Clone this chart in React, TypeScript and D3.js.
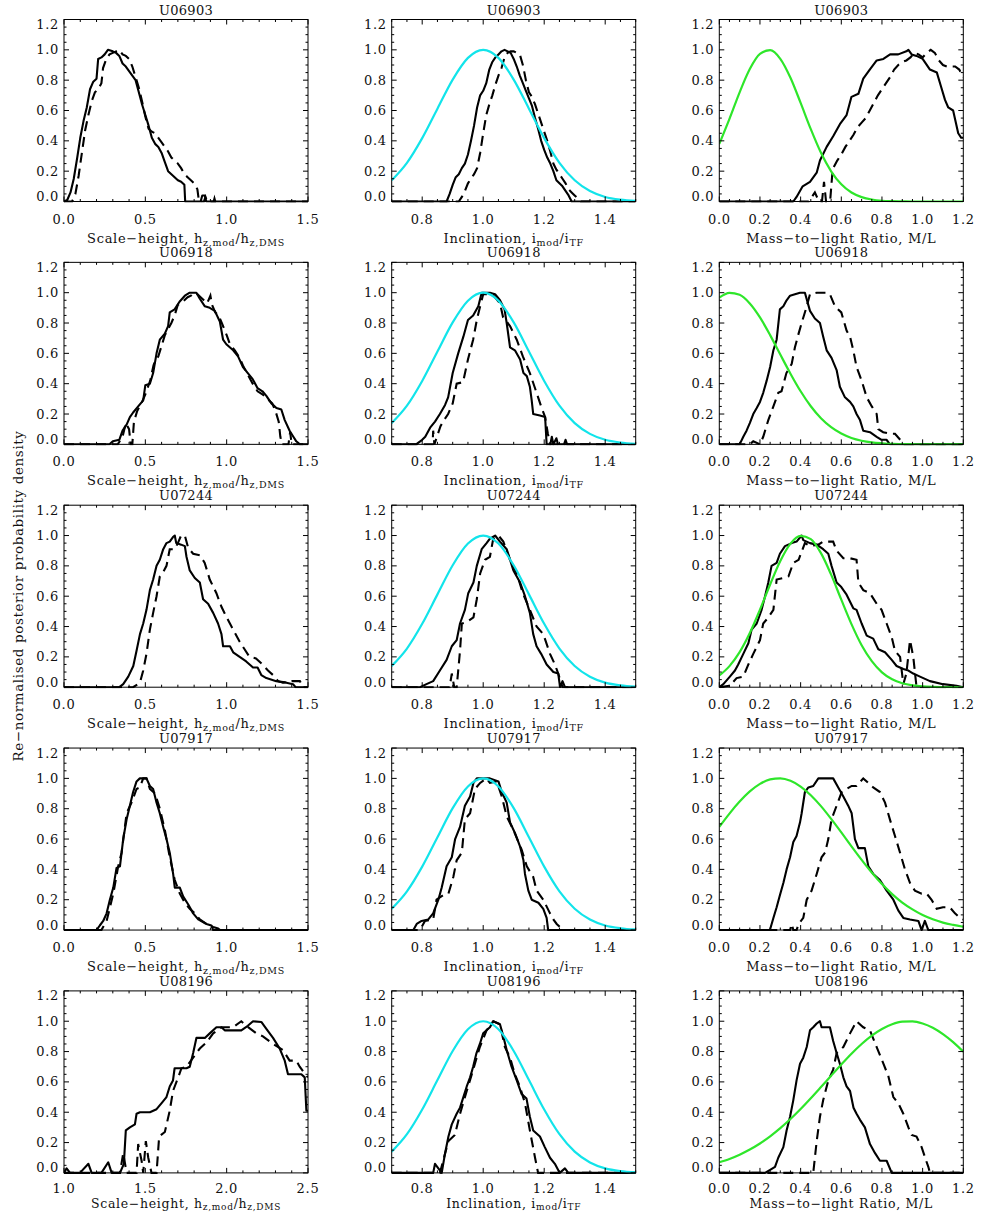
import React from 'react';
import * as d3 from 'd3';

type Pt = [number, number];

// ---------- Data ----------
const galaxies = ['U06903', 'U06918', 'U07244', 'U07917', 'U08196'];
const hzDomains: [number, number][] = [[0, 1.5], [0, 1.5], [0, 1.5], [0, 1.5], [1.0, 2.5]];
const hzTickLabels = [[0, 0.5, 1.0, 1.5], [0, 0.5, 1.0, 1.5], [0, 0.5, 1.0, 1.5], [0, 0.5, 1.0, 1.5], [1.0, 1.5, 2.0, 2.5]];
const inclDomain: [number, number] = [0.7, 1.5];
const inclTickLabels = [0.8, 1.0, 1.2, 1.4];
const mlDomain: [number, number] = [0, 1.2];
const mlTickLabels = [0, 0.2, 0.4, 0.6, 0.8, 1.0, 1.2];
const yTickLabels = [0, 0.2, 0.4, 0.6, 0.8, 1.0, 1.2];

// Inclination prior (cyan), same for every galaxy
const inclPriorX = [0.7, 0.75, 0.8, 0.85, 0.9, 0.95, 1.0, 1.05, 1.1, 1.15, 1.2, 1.25, 1.3, 1.35, 1.4, 1.45, 1.5];
const inclPriorY = [0.14, 0.255, 0.418, 0.612, 0.804, 0.947, 1.0, 0.947, 0.804, 0.612, 0.418, 0.255, 0.14, 0.069, 0.03, 0.012, 0.004];

// M/L prior grid (green)
const mlPriorX = [0, 0.05, 0.1, 0.15, 0.2, 0.25, 0.3, 0.35, 0.4, 0.45, 0.5, 0.55, 0.6, 0.65, 0.7, 0.75, 0.8, 0.85, 0.9, 0.95, 1.0, 1.05, 1.1, 1.15, 1.2];
const u06903MlPrior = [0.38, 0.545, 0.72, 0.873, 0.973, 0.998, 0.941, 0.816, 0.65, 0.477, 0.321, 0.199, 0.113, 0.059, 0.029, 0.013, 0.005, 0.002, 0.001, 0, 0, 0, 0, 0, 0];
const u06918MlPrior = [0.968, 0.999, 0.986, 0.929, 0.837, 0.72, 0.592, 0.466, 0.35, 0.251, 0.172, 0.113, 0.071, 0.042, 0.024, 0.013, 0.007, 0.003, 0.002, 0.001, 0, 0, 0, 0, 0];
const u07244MlPrior = [0.077, 0.139, 0.231, 0.357, 0.511, 0.677, 0.832, 0.947, 0.998, 0.976, 0.884, 0.742, 0.577, 0.416, 0.277, 0.172, 0.098, 0.052, 0.026, 0.012, 0.005, 0.002, 0.001, 0, 0];
const u07917MlPrior = [0.68, 0.768, 0.847, 0.914, 0.964, 0.993, 1.0, 0.984, 0.946, 0.889, 0.817, 0.733, 0.644, 0.552, 0.463, 0.379, 0.303, 0.237, 0.181, 0.136, 0.099, 0.071, 0.049, 0.034, 0.022];
const u08196MlPrior = [0.07, 0.092, 0.12, 0.154, 0.194, 0.241, 0.295, 0.355, 0.421, 0.492, 0.566, 0.641, 0.715, 0.786, 0.85, 0.905, 0.949, 0.98, 0.997, 0.999, 0.985, 0.957, 0.915, 0.862, 0.799];

// U06903
const u06903HzSolid: Pt[] = [[0,0],[0.02,0.01],[0.04,0.06],[0.06,0.15],[0.08,0.28],[0.10,0.42],[0.12,0.53],[0.14,0.62],[0.16,0.74],[0.18,0.79],[0.20,0.81],[0.21,0.94],[0.23,0.95],[0.25,0.97],[0.27,1.0],[0.30,0.99],[0.32,0.98],[0.34,0.96],[0.36,0.91],[0.38,0.89],[0.40,0.86],[0.42,0.83],[0.44,0.80],[0.46,0.72],[0.48,0.64],[0.50,0.57],[0.52,0.50],[0.54,0.42],[0.56,0.38],[0.58,0.36],[0.60,0.32],[0.62,0.26],[0.64,0.20],[0.66,0.18],[0.68,0.16],[0.70,0.14],[0.72,0.13],[0.74,0.11],[0.745,0],[0.84,0],[0.85,0.04],[0.865,0.04],[0.875,0],[1.5,0]];
const u06903HzDashed: Pt[] = [[0,0],[0.05,0],[0.07,0.05],[0.09,0.17],[0.11,0.32],[0.13,0.47],[0.15,0.57],[0.17,0.66],[0.19,0.72],[0.21,0.74],[0.23,0.78],[0.24,0.88],[0.26,0.94],[0.28,0.97],[0.30,0.98],[0.32,0.99],[0.34,1.0],[0.36,0.97],[0.38,0.96],[0.40,0.94],[0.42,0.89],[0.44,0.82],[0.46,0.75],[0.48,0.66],[0.50,0.56],[0.52,0.48],[0.54,0.46],[0.56,0.45],[0.58,0.42],[0.60,0.39],[0.62,0.36],[0.64,0.33],[0.66,0.29],[0.68,0.27],[0.70,0.25],[0.72,0.22],[0.74,0.18],[0.76,0.16],[0.78,0.14],[0.80,0.12],[0.82,0.08],[0.83,0],[0.86,0],[0.87,0.03],[0.88,0],[0.92,0],[0.925,0.02],[0.93,0],[1.5,0]];
const u06903InclSolid: Pt[] = [[0.7,0],[0.88,0],[0.89,0.05],[0.90,0.11],[0.91,0.16],[0.92,0.18],[0.93,0.22],[0.94,0.25],[0.95,0.31],[0.96,0.40],[0.97,0.50],[0.98,0.62],[0.99,0.70],[1.00,0.73],[1.01,0.78],[1.02,0.87],[1.03,0.92],[1.04,0.95],[1.05,0.97],[1.06,0.99],[1.07,1.0],[1.08,0.99],[1.09,0.98],[1.10,0.94],[1.11,0.89],[1.12,0.83],[1.13,0.78],[1.14,0.73],[1.15,0.68],[1.16,0.63],[1.17,0.55],[1.18,0.48],[1.19,0.40],[1.20,0.34],[1.21,0.29],[1.22,0.25],[1.23,0.20],[1.24,0.14],[1.25,0.12],[1.26,0.10],[1.27,0.07],[1.28,0.04],[1.29,0],[1.5,0]];
const u06903InclDashed: Pt[] = [[0.7,0],[0.92,0],[0.93,0.03],[0.94,0.07],[0.95,0.12],[0.96,0.15],[0.97,0.18],[0.98,0.22],[0.99,0.32],[1.00,0.45],[1.01,0.57],[1.02,0.64],[1.03,0.70],[1.04,0.77],[1.05,0.83],[1.06,0.88],[1.07,0.95],[1.08,0.98],[1.09,0.99],[1.10,0.99],[1.11,0.98],[1.12,0.97],[1.13,0.90],[1.14,0.80],[1.15,0.72],[1.16,0.69],[1.17,0.64],[1.18,0.58],[1.19,0.52],[1.20,0.46],[1.21,0.40],[1.22,0.33],[1.23,0.25],[1.24,0.21],[1.25,0.18],[1.26,0.15],[1.27,0.12],[1.28,0.08],[1.29,0.06],[1.30,0.04],[1.31,0.02],[1.32,0],[1.5,0]];
const u06903MlSolid: Pt[] = [[0,0],[0.364,0],[0.38,0.03],[0.41,0.10],[0.446,0.13],[0.479,0.19],[0.495,0.27],[0.528,0.36],[0.56,0.43],[0.593,0.51],[0.626,0.57],[0.65,0.69],[0.684,0.71],[0.708,0.81],[0.74,0.87],[0.774,0.93],[0.807,0.94],[0.84,0.97],[0.88,0.97],[0.92,0.99],[0.93,1.0],[0.946,0.97],[0.97,0.96],[1.0,0.94],[1.036,0.87],[1.07,0.85],[1.09,0.76],[1.11,0.67],[1.126,0.62],[1.15,0.60],[1.175,0.45],[1.19,0.42],[1.2,0.42]];
const u06903MlDashed: Pt[] = [[0,0],[0.44,0],[0.47,0.06],[0.49,0],[0.505,0],[0.515,0.13],[0.525,0],[0.545,0],[0.555,0.17],[0.56,0.22],[0.58,0.27],[0.60,0.31],[0.62,0.36],[0.64,0.40],[0.66,0.44],[0.68,0.49],[0.70,0.52],[0.72,0.55],[0.74,0.60],[0.76,0.65],[0.78,0.70],[0.80,0.74],[0.82,0.78],[0.84,0.82],[0.86,0.87],[0.88,0.90],[0.90,0.92],[0.92,0.93],[0.94,0.95],[0.96,0.98],[0.98,0.97],[1.0,0.95],[1.02,0.98],[1.04,1.0],[1.06,0.98],[1.08,0.93],[1.10,0.90],[1.12,0.89],[1.14,0.89],[1.16,0.89],[1.18,0.87],[1.2,0.82]];

// U06918
const u06918HzSolid: Pt[] = [[0,0],[0.28,0],[0.30,0.02],[0.34,0.03],[0.36,0.09],[0.385,0.13],[0.405,0.18],[0.425,0.21],[0.456,0.25],[0.487,0.29],[0.50,0.39],[0.528,0.40],[0.548,0.47],[0.569,0.60],[0.589,0.69],[0.62,0.73],[0.64,0.78],[0.65,0.87],[0.68,0.89],[0.71,0.94],[0.743,0.98],[0.773,1.0],[0.814,1.0],[0.835,0.96],[0.866,0.91],[0.896,0.90],[0.927,0.88],[0.958,0.81],[0.978,0.69],[0.998,0.66],[1.04,0.62],[1.07,0.58],[1.10,0.51],[1.13,0.47],[1.16,0.43],[1.19,0.37],[1.22,0.35],[1.244,0.32],[1.275,0.27],[1.306,0.24],[1.336,0.23],[1.357,0.16],[1.387,0.09],[1.41,0.05],[1.428,0.02],[1.45,0],[1.5,0]];
const u06918HzDashed: Pt[] = [[0,0],[0.33,0],[0.36,0.05],[0.38,0.14],[0.40,0.10],[0.41,0],[0.42,0],[0.43,0.15],[0.45,0.22],[0.48,0.28],[0.50,0.33],[0.53,0.42],[0.55,0.52],[0.56,0.55],[0.58,0.58],[0.60,0.65],[0.62,0.72],[0.64,0.76],[0.66,0.80],[0.68,0.85],[0.70,0.92],[0.72,0.93],[0.74,0.95],[0.76,0.97],[0.78,0.98],[0.80,1.0],[0.82,0.99],[0.84,0.97],[0.86,0.95],[0.88,0.93],[0.90,0.98],[0.91,0.92],[0.93,0.87],[0.95,0.85],[0.97,0.80],[1.0,0.72],[1.02,0.66],[1.05,0.62],[1.08,0.57],[1.10,0.52],[1.13,0.46],[1.16,0.40],[1.19,0.35],[1.22,0.33],[1.25,0.30],[1.28,0.27],[1.30,0.22],[1.32,0.15],[1.33,0.05],[1.34,0],[1.38,0],[1.39,0.08],[1.40,0],[1.5,0]];
const u06918InclSolid: Pt[] = [[0.7,0],[0.78,0],[0.80,0.03],[0.81,0.05],[0.826,0.11],[0.842,0.15],[0.858,0.20],[0.875,0.26],[0.885,0.31],[0.90,0.47],[0.918,0.60],[0.935,0.71],[0.95,0.82],[0.967,0.85],[0.984,0.91],[0.995,1.0],[1.022,1.0],[1.039,0.99],[1.055,0.95],[1.07,0.89],[1.077,0.80],[1.088,0.64],[1.104,0.62],[1.121,0.56],[1.132,0.47],[1.143,0.45],[1.153,0.38],[1.159,0.29],[1.164,0.20],[1.186,0.19],[1.203,0.18],[1.208,0],[1.22,0],[1.225,0.05],[1.23,0],[1.24,0.04],[1.245,0],[1.265,0],[1.27,0.03],[1.275,0],[1.5,0]];
const u06918InclDashed: Pt[] = [[0.7,0],[0.834,0],[0.836,0.09],[0.84,0],[0.86,0.12],[0.868,0.15],[0.885,0.20],[0.90,0.27],[0.913,0.40],[0.934,0.41],[0.95,0.56],[0.967,0.69],[0.979,0.82],[0.99,0.91],[1.0,0.99],[1.03,0.99],[1.055,0.93],[1.065,0.84],[1.088,0.78],[1.11,0.69],[1.13,0.58],[1.153,0.47],[1.175,0.34],[1.19,0.25],[1.203,0.18],[1.212,0.07],[1.22,0],[1.5,0]];
const u06918MlSolid: Pt[] = [[0,0],[0.10,0],[0.118,0.05],[0.134,0.09],[0.15,0.14],[0.167,0.20],[0.184,0.24],[0.2,0.28],[0.216,0.34],[0.233,0.42],[0.25,0.51],[0.266,0.62],[0.282,0.69],[0.298,0.89],[0.315,0.91],[0.331,0.95],[0.348,0.98],[0.372,0.99],[0.397,1.0],[0.421,1.0],[0.446,0.88],[0.47,0.83],[0.495,0.80],[0.511,0.71],[0.528,0.62],[0.552,0.57],[0.577,0.49],[0.593,0.38],[0.618,0.31],[0.643,0.28],[0.659,0.25],[0.675,0.20],[0.692,0.16],[0.708,0.09],[0.741,0.08],[0.774,0.05],[0.798,0.03],[0.823,0.03],[0.839,0],[1.2,0]];
const u06918MlDashed: Pt[] = [[0,0],[0.15,0],[0.167,0.02],[0.2,0],[0.216,0.05],[0.241,0.16],[0.266,0.25],[0.29,0.34],[0.306,0.35],[0.33,0.47],[0.356,0.53],[0.372,0.64],[0.39,0.73],[0.405,0.80],[0.43,0.91],[0.446,0.99],[0.479,1.0],[0.528,1.0],[0.544,0.99],[0.569,0.91],[0.6,0.87],[0.626,0.75],[0.643,0.71],[0.659,0.62],[0.675,0.51],[0.7,0.42],[0.725,0.31],[0.75,0.25],[0.774,0.20],[0.782,0.10],[0.806,0.08],[0.839,0.07],[0.864,0.07],[0.89,0.03],[0.905,0],[1.2,0]];

// U07244
const u07244HzSolid: Pt[] = [[0,0],[0.34,0],[0.364,0.02],[0.395,0.07],[0.426,0.14],[0.446,0.24],[0.467,0.35],[0.487,0.42],[0.507,0.51],[0.528,0.64],[0.548,0.71],[0.569,0.80],[0.589,0.84],[0.61,0.91],[0.63,0.95],[0.65,0.96],[0.67,0.99],[0.681,1.0],[0.69,0.95],[0.72,0.94],[0.743,0.93],[0.753,0.86],[0.773,0.77],[0.804,0.72],[0.835,0.69],[0.855,0.58],[0.886,0.55],[0.917,0.49],[0.947,0.42],[0.968,0.35],[0.978,0.27],[1.02,0.27],[1.04,0.23],[1.08,0.20],[1.12,0.17],[1.162,0.13],[1.19,0.13],[1.213,0.08],[1.244,0.06],[1.305,0.04],[1.367,0.03],[1.408,0.02],[1.424,0],[1.5,0]];
const u07244HzDashed: Pt[] = [[0,0],[0.425,0],[0.467,0.03],[0.487,0.11],[0.507,0.22],[0.528,0.38],[0.548,0.49],[0.569,0.60],[0.589,0.73],[0.61,0.76],[0.63,0.80],[0.65,0.91],[0.681,0.91],[0.70,0.95],[0.72,1.0],[0.743,1.0],[0.763,0.92],[0.794,0.88],[0.835,0.87],[0.865,0.82],[0.896,0.71],[0.937,0.62],[0.968,0.53],[1.0,0.46],[1.04,0.38],[1.08,0.30],[1.11,0.25],[1.14,0.20],[1.18,0.19],[1.22,0.15],[1.254,0.11],[1.285,0.08],[1.316,0.04],[1.346,0.03],[1.4,0.04],[1.45,0.04],[1.46,0.02],[1.47,0],[1.5,0]];
const u07244InclSolid: Pt[] = [[0.7,0],[0.793,0],[0.814,0.02],[0.836,0.04],[0.858,0.11],[0.88,0.18],[0.897,0.27],[0.913,0.31],[0.924,0.42],[0.94,0.51],[0.951,0.62],[0.968,0.69],[0.979,0.80],[0.995,0.91],[1.011,0.95],[1.022,0.98],[1.039,1.0],[1.055,0.96],[1.077,0.91],[1.099,0.77],[1.121,0.69],[1.137,0.60],[1.153,0.49],[1.164,0.35],[1.175,0.27],[1.19,0.22],[1.208,0.15],[1.23,0.10],[1.246,0.09],[1.252,0],[1.26,0.04],[1.268,0],[1.5,0]];
const u07244InclDashed: Pt[] = [[0.7,0],[0.89,0],[0.897,0.09],[0.905,0],[0.913,0],[0.924,0.24],[0.93,0.42],[0.946,0.43],[0.968,0.46],[0.979,0.58],[0.99,0.75],[1.006,0.84],[1.022,0.86],[1.033,0.98],[1.05,1.0],[1.066,0.96],[1.088,0.84],[1.11,0.75],[1.13,0.62],[1.153,0.51],[1.175,0.40],[1.197,0.35],[1.219,0.22],[1.235,0.15],[1.246,0.09],[1.257,0.02],[1.26,0],[1.5,0]];
const u07244MlSolid: Pt[] = [[0,0],[0.02,0.02],[0.052,0.07],[0.077,0.11],[0.093,0.15],[0.118,0.22],[0.143,0.29],[0.159,0.38],[0.184,0.42],[0.208,0.51],[0.225,0.60],[0.241,0.69],[0.257,0.80],[0.282,0.82],[0.298,0.88],[0.323,0.93],[0.356,0.95],[0.38,0.96],[0.405,1.0],[0.413,0.97],[0.446,0.95],[0.479,0.94],[0.511,0.91],[0.536,0.88],[0.552,0.80],[0.577,0.69],[0.6,0.66],[0.626,0.61],[0.659,0.52],[0.675,0.51],[0.7,0.42],[0.725,0.34],[0.757,0.32],[0.782,0.25],[0.815,0.23],[0.848,0.18],[0.872,0.14],[0.905,0.12],[0.93,0.11],[0.954,0.09],[0.987,0.07],[1.036,0.04],[1.1,0.02],[1.167,0.01],[1.2,0]];
const u07244MlDashed: Pt[] = [[0,0],[0.052,0.01],[0.085,0.06],[0.118,0.07],[0.143,0.15],[0.167,0.22],[0.2,0.31],[0.216,0.42],[0.241,0.46],[0.266,0.51],[0.282,0.71],[0.315,0.72],[0.34,0.73],[0.364,0.82],[0.39,0.84],[0.421,0.95],[0.446,0.93],[0.487,0.94],[0.511,0.96],[0.56,0.96],[0.577,0.90],[0.61,0.85],[0.643,0.85],[0.675,0.84],[0.684,0.69],[0.708,0.64],[0.741,0.62],[0.774,0.55],[0.798,0.51],[0.823,0.42],[0.848,0.33],[0.864,0.24],[0.889,0.20],[0.905,0.02],[0.92,0.09],[0.938,0.31],[0.954,0.20],[0.97,0],[1.2,0]];

// U07917
const u07917HzSolid: Pt[] = [[0,0],[0.20,0],[0.22,0.03],[0.241,0.06],[0.262,0.11],[0.282,0.20],[0.303,0.28],[0.323,0.41],[0.344,0.42],[0.364,0.60],[0.385,0.73],[0.405,0.82],[0.425,0.91],[0.446,0.98],[0.466,1.0],[0.507,1.0],[0.528,0.95],[0.548,0.93],[0.569,0.84],[0.589,0.77],[0.61,0.68],[0.63,0.60],[0.65,0.51],[0.671,0.37],[0.681,0.28],[0.712,0.28],[0.733,0.22],[0.763,0.17],[0.794,0.11],[0.825,0.07],[0.876,0.04],[0.906,0.03],[0.917,0],[1.5,0]];
const u07917HzDashed: Pt[] = [[0,0],[0.23,0],[0.262,0.06],[0.303,0.24],[0.333,0.42],[0.354,0.51],[0.385,0.77],[0.415,0.84],[0.446,0.93],[0.466,0.94],[0.487,1.0],[0.507,1.0],[0.528,0.93],[0.56,0.90],[0.589,0.80],[0.62,0.66],[0.65,0.48],[0.681,0.33],[0.712,0.24],[0.743,0.18],[0.773,0.14],[0.804,0.11],[0.835,0.07],[0.876,0.04],[0.917,0.02],[0.947,0.01],[0.96,0],[1.5,0]];
const u07917InclSolid: Pt[] = [[0.7,0],[0.771,0],[0.782,0.04],[0.798,0.06],[0.82,0.07],[0.836,0.11],[0.853,0.20],[0.864,0.28],[0.88,0.42],[0.897,0.48],[0.908,0.60],[0.924,0.68],[0.94,0.82],[0.957,0.88],[0.968,0.97],[0.979,1.0],[1.022,1.0],[1.05,0.98],[1.061,0.91],[1.077,0.84],[1.088,0.71],[1.104,0.64],[1.121,0.55],[1.132,0.46],[1.137,0.37],[1.148,0.26],[1.159,0.20],[1.181,0.18],[1.197,0.14],[1.208,0.08],[1.213,0],[1.5,0]];
const u07917InclDashed: Pt[] = [[0.7,0],[0.787,0],[0.798,0.02],[0.809,0.06],[0.836,0.07],[0.847,0.20],[0.869,0.23],[0.886,0.24],[0.902,0.35],[0.913,0.46],[0.93,0.51],[0.94,0.73],[0.957,0.77],[0.973,0.93],[0.99,0.97],[1.011,1.0],[1.022,0.97],[1.044,0.98],[1.061,0.88],[1.077,0.75],[1.099,0.66],[1.126,0.53],[1.143,0.42],[1.164,0.35],[1.175,0.26],[1.197,0.20],[1.219,0.11],[1.23,0.07],[1.241,0.04],[1.252,0.02],[1.263,0],[1.5,0]];
const u07917MlSolid: Pt[] = [[0,0],[0.249,0],[0.266,0.08],[0.282,0.15],[0.298,0.23],[0.315,0.31],[0.331,0.40],[0.348,0.48],[0.364,0.58],[0.38,0.62],[0.397,0.71],[0.405,0.77],[0.421,0.91],[0.438,0.94],[0.462,0.95],[0.487,1.0],[0.56,1.0],[0.585,0.94],[0.61,0.88],[0.634,0.82],[0.651,0.77],[0.667,0.60],[0.684,0.54],[0.716,0.54],[0.733,0.42],[0.757,0.37],[0.79,0.33],[0.823,0.26],[0.856,0.20],[0.88,0.13],[0.905,0.08],[0.938,0.07],[0.979,0.06],[0.995,0],[1.011,0.06],[1.028,0],[1.2,0]];
const u07917MlDashed: Pt[] = [[0,0],[0.348,0],[0.356,0.04],[0.364,0],[0.38,0],[0.39,0.04],[0.413,0.08],[0.43,0.20],[0.454,0.26],[0.479,0.37],[0.503,0.48],[0.52,0.51],[0.536,0.60],[0.552,0.73],[0.577,0.82],[0.602,0.91],[0.626,0.93],[0.651,0.95],[0.675,0.95],[0.708,1.0],[0.733,0.97],[0.757,0.94],[0.79,0.91],[0.815,0.84],[0.839,0.73],[0.864,0.62],[0.889,0.51],[0.913,0.40],[0.938,0.31],[0.962,0.26],[0.995,0.24],[1.02,0.24],[1.044,0.20],[1.069,0.14],[1.1,0.15],[1.134,0.15],[1.159,0.11],[1.184,0.08],[1.2,0.07]];

// U08196
const u08196HzSolid: Pt[] = [[1.0,0],[1.016,0.03],[1.037,0],[1.098,0],[1.15,0.06],[1.17,0],[1.23,0],[1.272,0.07],[1.293,0],[1.344,0],[1.368,0.06],[1.38,0.28],[1.405,0.30],[1.436,0.32],[1.446,0.39],[1.467,0.40],[1.528,0.40],[1.569,0.42],[1.6,0.46],[1.63,0.50],[1.65,0.57],[1.67,0.61],[1.68,0.69],[1.753,0.69],[1.773,0.70],[1.794,0.79],[1.814,0.89],[1.866,0.89],[1.896,0.92],[1.937,0.96],[1.968,0.96],[1.988,0.94],[2.09,0.94],[2.13,0.97],[2.162,1.0],[2.213,0.995],[2.244,0.95],[2.285,0.89],[2.326,0.82],[2.357,0.74],[2.377,0.65],[2.459,0.65],[2.48,0.63],[2.49,0.41],[2.5,0.41]];
const u08196HzDashed: Pt[] = [[1.0,0],[1.344,0],[1.364,0.13],[1.385,0],[1.446,0],[1.456,0.19],[1.477,0.08],[1.487,0],[1.503,0.21],[1.518,0.10],[1.538,0],[1.569,0],[1.585,0.24],[1.62,0.27],[1.65,0.41],[1.67,0.54],[1.702,0.63],[1.722,0.69],[1.753,0.70],[1.794,0.76],[1.835,0.82],[1.876,0.86],[1.917,0.92],[1.968,0.96],[2.04,0.96],[2.09,1.0],[2.121,0.97],[2.183,0.92],[2.223,0.90],[2.285,0.85],[2.346,0.81],[2.387,0.74],[2.428,0.74],[2.449,0.70],[2.49,0.64],[2.5,0.63]];
const u08196InclSolid: Pt[] = [[0.7,0],[0.836,0],[0.842,0.06],[0.853,0.03],[0.864,0],[0.875,0.13],[0.886,0.24],[0.897,0.32],[0.913,0.39],[0.924,0.43],[0.935,0.50],[0.946,0.57],[0.957,0.63],[0.967,0.70],[0.978,0.79],[0.989,0.85],[1.0,0.92],[1.011,0.94],[1.022,0.96],[1.033,1.0],[1.055,0.98],[1.066,0.90],[1.077,0.81],[1.093,0.70],[1.11,0.61],[1.126,0.52],[1.142,0.49],[1.153,0.37],[1.164,0.28],[1.186,0.24],[1.202,0.17],[1.219,0.10],[1.235,0.06],[1.251,0],[1.268,0.03],[1.279,0],[1.5,0]];
const u08196InclDashed: Pt[] = [[0.7,0],[0.858,0],[0.886,0.21],[0.907,0.25],[0.924,0.39],[0.946,0.54],[0.967,0.68],[0.989,0.83],[1.011,0.94],[1.033,1.0],[1.055,0.98],[1.071,0.83],[1.088,0.76],[1.104,0.65],[1.12,0.57],[1.137,0.46],[1.153,0.28],[1.17,0.10],[1.18,0],[1.5,0]];
const u08196MlSolid: Pt[] = [[0,0],[0.225,0],[0.25,0.02],[0.274,0.04],[0.29,0.10],[0.315,0.17],[0.331,0.28],[0.348,0.37],[0.364,0.48],[0.38,0.61],[0.397,0.72],[0.413,0.76],[0.43,0.83],[0.446,0.94],[0.462,0.96],[0.479,0.985],[0.495,1.0],[0.503,0.96],[0.544,0.96],[0.56,0.87],[0.577,0.79],[0.593,0.72],[0.61,0.63],[0.626,0.57],[0.643,0.54],[0.66,0.43],[0.675,0.39],[0.692,0.35],[0.716,0.30],[0.741,0.19],[0.766,0.13],[0.79,0.08],[0.823,0.08],[0.848,0],[1.2,0]];
const u08196MlDashed: Pt[] = [[0,0],[0.462,0],[0.479,0.21],[0.495,0.37],[0.511,0.48],[0.536,0.61],[0.56,0.68],[0.577,0.79],[0.61,0.83],[0.643,0.92],[0.675,1.0],[0.708,0.96],[0.741,0.94],[0.774,0.83],[0.807,0.72],[0.831,0.64],[0.856,0.50],[0.88,0.46],[0.905,0.39],[0.93,0.30],[0.946,0.25],[0.97,0.24],[0.995,0.17],[1.02,0.07],[1.028,0.04],[1.036,0],[1.2,0]];

// ---------- Layout ----------
const W = 981;
const H = 1213;
const colLeft = [64, 391.7, 719.3];
const panelW = 244;
const panelH = 182;
const rowTop0 = 19.5;
const rowPitch = 242.85;
const FONT = '"DejaVu Serif", "Liberation Serif", serif';
const LS = 0.7;
const CYAN = '#12e4ea';
const GREEN = '#2ee62a';

const hzSolid = [u06903HzSolid, u06918HzSolid, u07244HzSolid, u07917HzSolid, u08196HzSolid];
const hzDashed = [u06903HzDashed, u06918HzDashed, u07244HzDashed, u07917HzDashed, u08196HzDashed];
const inclSolid = [u06903InclSolid, u06918InclSolid, u07244InclSolid, u07917InclSolid, u08196InclSolid];
const inclDashed = [u06903InclDashed, u06918InclDashed, u07244InclDashed, u07917InclDashed, u08196InclDashed];
const mlSolid = [u06903MlSolid, u06918MlSolid, u07244MlSolid, u07917MlSolid, u08196MlSolid];
const mlDashed = [u06903MlDashed, u06918MlDashed, u07244MlDashed, u07917MlDashed, u08196MlDashed];
const mlPriors = [u06903MlPrior, u06918MlPrior, u07244MlPrior, u07917MlPrior, u08196MlPrior];

type LabelStyle = { tickOff: number; labelOff: number; size: number; sub: number; dy: number };
const normalStyle: LabelStyle = { tickOff: 22, labelOff: 41, size: 13, sub: 9.5, dy: 3 };
const lastStyle: LabelStyle = { tickOff: 20.5, labelOff: 35, size: 12.5, sub: 9, dy: 2 };

type PanelProps = {
  id: string;
  left: number;
  top: number;
  title: string;
  xDomain: [number, number];
  xTicks: number[];
  xMinor: number;
  solid: Pt[];
  dashed: Pt[];
  prior?: Pt[];
  priorColor?: string;
  kind: 'hz' | 'incl' | 'ml';
  ls: LabelStyle;
};

const AxisLabel = ({ kind, ls }: { kind: 'hz' | 'incl' | 'ml'; ls: LabelStyle }) => {
  if (kind === 'hz') {
    return (
      <>
        {'Scale\u2212height, h'}
        <tspan dy={ls.dy} fontSize={ls.sub}>z,mod</tspan>
        <tspan dy={-ls.dy}>/h</tspan>
        <tspan dy={ls.dy} fontSize={ls.sub}>z,DMS</tspan>
      </>
    );
  }
  if (kind === 'incl') {
    return (
      <>
        {'Inclination, i'}
        <tspan dy={ls.dy} fontSize={ls.sub}>mod</tspan>
        <tspan dy={-ls.dy}>/i</tspan>
        <tspan dy={ls.dy} fontSize={ls.sub}>TF</tspan>
      </>
    );
  }
  return <>{'Mass\u2212to\u2212light Ratio, M/L'}</>;
};

const Panel = ({ id, left, top, title, xDomain, xTicks, xMinor, solid, dashed, prior, priorColor, kind, ls }: PanelProps) => {
  const x = d3.scaleLinear().domain(xDomain).range([left, left + panelW]);
  const y = d3.scaleLinear().domain([0, 1.2]).range([top + panelH, top]);
  const line = d3.line<Pt>().x(d => x(d[0])).y(d => y(d[1]));
  const smooth = d3.line<Pt>().x(d => x(d[0])).y(d => y(d[1])).curve(d3.curveMonotoneX);
  const fmt = d3.format('.1f');
  const xMinorTicks = x.ticks(xMinor);
  const yMinorTicks = y.ticks(24);
  const bottom = top + panelH;
  const right = left + panelW;
  const maj = 5;
  const mnr = 2.5;
  const isMajorX = (v: number) => xTicks.some(t => Math.abs(t - v) < 1e-6);
  const isMajorY = (v: number) => yTickLabels.some(t => Math.abs(t - v) < 1e-6);
  return (
    <g>
      <defs>
        <clipPath id={`clip-${id}`}>
          <rect x={left} y={top - 1} width={panelW} height={panelH + 2} />
        </clipPath>
      </defs>
      <g clipPath={`url(#clip-${id})`}>
        <path d={line(solid) || ''} fill="none" stroke="#000" strokeWidth={2.1} strokeLinejoin="round" />
        <path d={line(dashed) || ''} fill="none" stroke="#000" strokeWidth={2.1} strokeDasharray="10,6" />
        {prior && <path d={smooth(prior) || ''} fill="none" stroke={priorColor} strokeWidth={2.2} />}
      </g>
      <rect x={left} y={top} width={panelW} height={panelH} fill="none" stroke="#000" strokeWidth={1} />
      {xMinorTicks.map((v, i) => {
        const len = isMajorX(v) ? maj : mnr;
        const px = x(v);
        return (
          <g key={`xt${i}`} stroke="#000" strokeWidth={1}>
            <line x1={px} x2={px} y1={bottom} y2={bottom - len} />
            <line x1={px} x2={px} y1={top} y2={top + len} />
          </g>
        );
      })}
      {yMinorTicks.map((v, i) => {
        const len = isMajorY(v) ? maj : mnr;
        const py = y(v);
        return (
          <g key={`yt${i}`} stroke="#000" strokeWidth={1}>
            <line x1={left} x2={left + len} y1={py} y2={py} />
            <line x1={right} x2={right - len} y1={py} y2={py} />
          </g>
        );
      })}
      {xTicks.map((v, i) => (
        <text key={`xl${i}`} x={x(v)} y={bottom + ls.tickOff} textAnchor="middle" fontSize={13} letterSpacing={LS} fontFamily={FONT} fill="#111">
          {fmt(v)}
        </text>
      ))}
      {yTickLabels.map((v, i) => {
        let py = y(v);
        if (i === 0) py -= 5;
        if (i === yTickLabels.length - 1) py += 5;
        return (
          <text key={`yl${i}`} x={left - 5} y={py + 4.5} textAnchor="end" fontSize={13} letterSpacing={LS} fontFamily={FONT} fill="#111">
            {fmt(v)}
          </text>
        );
      })}
      <text x={(left + right) / 2} y={top - 5} textAnchor="middle" fontSize={13} letterSpacing={0.3} fontFamily={FONT} fill="#111">
        {title}
      </text>
      <text x={(left + right) / 2} y={bottom + ls.labelOff} textAnchor="middle" fontSize={ls.size} letterSpacing={LS} fontFamily={FONT} fill="#111">
        <AxisLabel kind={kind} ls={ls} />
      </text>
    </g>
  );
};

export default function App() {
  const inclPrior: Pt[] = inclPriorX.map((v, i) => [v, inclPriorY[i]]);
  return (
    <svg width={W} height={H} style={{ position: 'absolute', left: 0, top: 0, background: '#fff' }}>
      <rect x={0} y={0} width={W} height={H} fill="#fff" />
      {galaxies.map((g, r) => {
        const top = rowTop0 + rowPitch * r;
        const ls = r === galaxies.length - 1 ? lastStyle : normalStyle;
        const mlPrior: Pt[] = mlPriorX.map((v, i) => [v, mlPriors[r][i]]);
        return (
          <g key={g}>
            <Panel id={`hz${r}`} left={colLeft[0]} top={top} title={g} xDomain={hzDomains[r]} xTicks={hzTickLabels[r]} xMinor={15}
              solid={hzSolid[r]} dashed={hzDashed[r]} kind="hz" ls={ls} />
            <Panel id={`in${r}`} left={colLeft[1]} top={top} title={g} xDomain={inclDomain} xTicks={inclTickLabels} xMinor={16}
              solid={inclSolid[r]} dashed={inclDashed[r]} prior={inclPrior} priorColor={CYAN} kind="incl" ls={ls} />
            <Panel id={`ml${r}`} left={colLeft[2]} top={top} title={g} xDomain={mlDomain} xTicks={mlTickLabels} xMinor={24}
              solid={mlSolid[r]} dashed={mlDashed[r]} prior={mlPrior} priorColor={GREEN} kind="ml" ls={ls} />
          </g>
        );
      })}
      <text transform="translate(23,596) rotate(-90)" textAnchor="middle" fontSize={13.5} letterSpacing={0.6} fontFamily={FONT} fill="#111">
        {'Re\u2212normalised posterior probability density'}
      </text>
    </svg>
  );
}
